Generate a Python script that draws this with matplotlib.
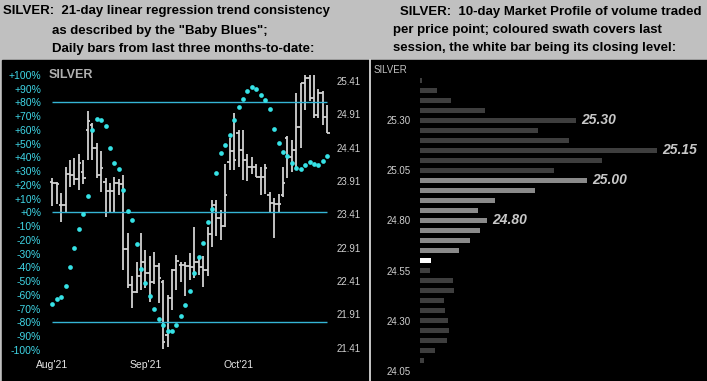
import matplotlib
matplotlib.use('Agg')
import matplotlib.pyplot as plt
from matplotlib.patches import Rectangle
from matplotlib.lines import Line2D

W, H = 707, 381

# daily bars, Aug'21 -> late Oct'21
opens = [23.89, 23.88, 23.55, 23.55, 24.02, 24.00, 23.94, 24.05, 24.67, 24.75,
         24.40, 24.00, 23.90, 23.76, 23.76, 23.88, 23.87, 22.89, 22.35, 22.24,
         22.48, 22.69, 22.53, 22.40, 22.63, 22.40, 21.60, 22.15, 22.57, 22.65,
         22.65, 22.63, 22.62, 22.70, 22.62, 22.57, 23.12, 23.55, 23.35, 23.24,
         24.20, 24.36, 24.62, 24.38, 24.22, 24.12, 24.12, 23.97, 23.97, 23.70,
         23.58, 23.56, 23.70, 24.55, 24.27, 24.37, 24.72, 25.37, 25.45, 25.15,
         24.90, 25.22, 24.87]
highs = [23.96, 23.90, 23.73, 24.12, 24.23, 24.26, 24.32, 24.23, 24.95, 24.78,
         24.48, 24.36, 23.95, 23.88, 23.97, 23.94, 24.00, 23.13, 22.48, 22.70,
         23.13, 22.87, 22.78, 22.85, 22.68, 22.42, 22.20, 22.59, 22.80, 22.70,
         22.70, 22.83, 23.22, 22.78, 22.78, 23.22, 23.62, 23.62, 23.47, 24.17,
         24.55, 24.92, 24.67, 24.67, 24.32, 24.27, 24.17, 24.12, 24.17, 23.75,
         23.65, 23.72, 24.12, 24.58, 24.52, 25.22, 25.38, 25.50, 25.50, 25.50,
         25.28, 25.25, 25.05]
lows = [23.54, 23.57, 23.30, 23.43, 23.82, 23.85, 23.77, 23.86, 24.22, 24.22,
        23.95, 23.75, 23.37, 23.45, 23.45, 23.70, 22.58, 22.30, 22.00, 22.23,
        22.28, 22.30, 22.09, 22.37, 22.08, 21.40, 21.43, 21.97, 22.28, 22.39,
        22.18, 22.43, 22.45, 22.50, 22.32, 22.48, 22.92, 23.09, 23.03, 23.22,
        24.07, 24.07, 24.12, 23.93, 23.91, 24.02, 23.97, 23.70, 23.72, 23.45,
        23.05, 23.43, 23.67, 23.96, 24.05, 24.07, 24.40, 24.97, 25.10, 24.85,
        24.85, 24.75, 24.63]
closes = [23.88, 23.86, 23.55, 24.02, 24.00, 23.94, 24.18, 23.95, 24.80, 24.40,
          24.00, 24.10, 23.76, 23.76, 23.88, 23.87, 22.89, 22.35, 22.24, 22.48,
          22.69, 22.53, 22.40, 22.63, 22.46, 21.50, 22.15, 22.57, 22.71, 22.65,
          22.63, 22.62, 22.70, 22.62, 22.57, 23.12, 23.55, 23.35, 23.24, 23.70,
          24.36, 24.23, 24.38, 24.22, 24.12, 24.12, 23.97, 23.97, 24.10, 23.58,
          23.56, 23.56, 23.88, 24.27, 24.37, 24.72, 25.37, 25.45, 25.15, 24.90,
          25.22, 24.87, 24.63]
# "Baby Blues": trend consistency in %
blues = [-66.7, -63.3, -61.4, -53.6, -39.6, -25.7, -11.9, -1.0, 12.1, 59.9,
         68.1, 67.1, 63.0, 47.0, 36.1, 31.7, 16.4, 0.9, -5.4, -23.3,
         -41.2, -51.2, -60.6, -70.1, -77.4, -82.2, -86.1, -86.1, -82.2, -75.4,
         -67.2, -57.5, -44.4, -32.3, -22.1, -7.1, 2.4, 28.8, 43.3, 49.2,
         56.4, 67.1, 76.8, 82.6, 88.4, 91.3, 89.9, 85.5, 81.7, 75.3,
         60.8, 50.6, 44.1, 40.9, 36.1, 32.4, 31.7, 34.4, 36.8, 35.3,
         34.4, 37.5, 40.9]
month_labels = ["Aug'21", "Sep'21", "Oct'21"]
month_starts = [0, 21, 42]
pct_ticks = list(range(-100, 101, 10))
pct_lines = [80, 0, -80]
price_ticks = [21.41, 21.91, 22.41, 22.91, 23.41, 23.91, 24.41, 24.91, 25.41]

# 10-day market profile
profile_prices = [25.50, 25.45, 25.40, 25.35, 25.30, 25.25, 25.20, 25.15, 25.10, 25.05,
                  25.00, 24.95, 24.90, 24.85, 24.80, 24.75, 24.70, 24.65, 24.60, 24.55,
                  24.50, 24.45, 24.40, 24.35, 24.30, 24.25, 24.20, 24.15, 24.10]
profile_volume = [2, 17, 31, 65, 156, 118, 149, 237, 182, 134,
                  167, 115, 75, 58, 67, 60, 50, 39, 11, 10,
                  33, 34, 24, 25, 28, 29, 27, 15, 4]
swath_low, swath_high = 24.65, 25.00
close_level = 24.60
labelled_prices = [25.30, 25.15, 25.00, 24.80]
profile_ticks = [24.05, 24.30, 24.55, 24.80, 25.05, 25.30]

plt.rcParams['font.family'] = ['Liberation Sans', 'DejaVu Sans']

fig = plt.figure(figsize=(W / 100, H / 100), dpi=100)
fig.patch.set_facecolor('#c0c0c0')


def px(x, y):
    return x / W, 1 - y / H


# black panels (behind everything)
fig.patches.append(Rectangle(px(2, 381), (W - 2) / W, (381 - 60) / H,
                             transform=fig.transFigure, color='black', zorder=-5))
fig.add_artist(Line2D([369.5 / W] * 2, [0, 1 - 60 / H], color='#e8e8e8', lw=1.2,
                      zorder=-4))

# titles
tkw = dict(fontsize=9.5, fontweight='bold', color='black', va='center', ha='left')
fig.text(*px(3, 11), 'SILVER:  21-day linear regression trend consistency', **tkw)
fig.text(*px(52, 31), 'as described by the "Baby Blues";', **tkw)
fig.text(*px(52, 49), 'Daily bars from last three months-to-date:', **tkw)
fig.text(*px(400, 12), 'SILVER:  10-day Market Profile of volume traded', **tkw)
fig.text(*px(393, 30.5), 'per price point; coloured swath covers last', **tkw)
fig.text(*px(393, 48.5), 'session, the white bar being its closing level:', **tkw)

# ---- left chart
x0, y0 = px(47, 356)
ax = fig.add_axes([x0, y0, (332 - 47) / W, (356 - 62) / H])
ax2 = ax.twinx()
n = len(closes)
xs = list(range(n))

ax.set_xlim(-1.19, 63.06)
ax.set_ylim((212.3 - 356) / 1.375, (212.3 - 62) / 1.375)
ax2.set_ylim(25.41 - (356 - 80.7) / 66.8, 25.41 + (80.7 - 62) / 66.8)

ax.hlines(pct_lines, 0, n - 1, color='#35b5d5', lw=1.0)

bar_c = '#d2d2d2'
ax2.vlines(xs, lows, highs, color=bar_c, lw=1.3)
ax2.hlines(opens, [x - 0.5 for x in xs], xs, color=bar_c, lw=1.3)
ax2.hlines(closes, xs, [x + 0.5 for x in xs], color=bar_c, lw=1.3)

ax.plot(xs, blues, 'o', color='#36e2e6', ms=3.4, mec='none')
ax.set_zorder(ax2.get_zorder() + 1)
ax.patch.set_visible(False)
ax2.patch.set_visible(False)

ax.set_yticks(pct_ticks)
ax.set_yticklabels([f'{t:+d}%' for t in pct_ticks])
ax.tick_params(axis='y', length=0, pad=4.3, labelsize=7.5, labelcolor='#3fd6e6')
ax.set_xticks(month_starts)
ax.set_xticklabels(month_labels)
ax.tick_params(axis='x', length=0, pad=3, labelsize=7.5, labelcolor='#e6e6e6')
ax2.set_yticks(price_ticks)
ax2.set_yticklabels([f'{p:.2f}' for p in price_ticks])
ax2.tick_params(axis='y', length=0, pad=3, labelsize=7, labelcolor='#cfcfcf')
for a in (ax, ax2):
    for s in a.spines.values():
        s.set_visible(False)

fig.text(*px(49, 75), 'SILVER', fontsize=9, fontweight='bold', color='#b0b0b0',
         va='center', ha='left')

# ---- right chart: market profile
bx, by = px(420, 381)
axp = fig.add_axes([bx, by, (W - 420) / W, (381 - 60) / H])
axp.patch.set_visible(False)
colors = []
for p in profile_prices:
    if abs(p - close_level) < 1e-6:
        colors.append('white')
    elif swath_low - 1e-6 <= p <= swath_high + 1e-6:
        colors.append('#8a8a8a')
    else:
        colors.append('#3e3e3e')
axp.barh(profile_prices, profile_volume, height=0.025, color=colors)
axp.set_ylim(24.0, 25.60)
axp.set_xlim(0, W - 420)
for p in labelled_prices:
    v = profile_volume[profile_prices.index(p)]
    axp.annotate(f'{p:.2f}', (v, p), xytext=(4, 0), textcoords='offset points',
                 va='center', ha='left', fontsize=10, fontweight='bold',
                 fontstyle='italic', color='#c8c8c8')
axp.set_yticks(profile_ticks)
axp.set_yticklabels([f'{p:.2f}' for p in profile_ticks])
axp.tick_params(axis='y', length=0, pad=7, labelsize=7, labelcolor='#cfcfcf')
axp.set_xticks([])
for s in axp.spines.values():
    s.set_visible(False)

fig.text(*px(374, 70), 'SILVER', fontsize=7, color='#c0c0c0', va='center', ha='left')

fig.savefig('out.png', dpi=100, facecolor=fig.get_facecolor())
